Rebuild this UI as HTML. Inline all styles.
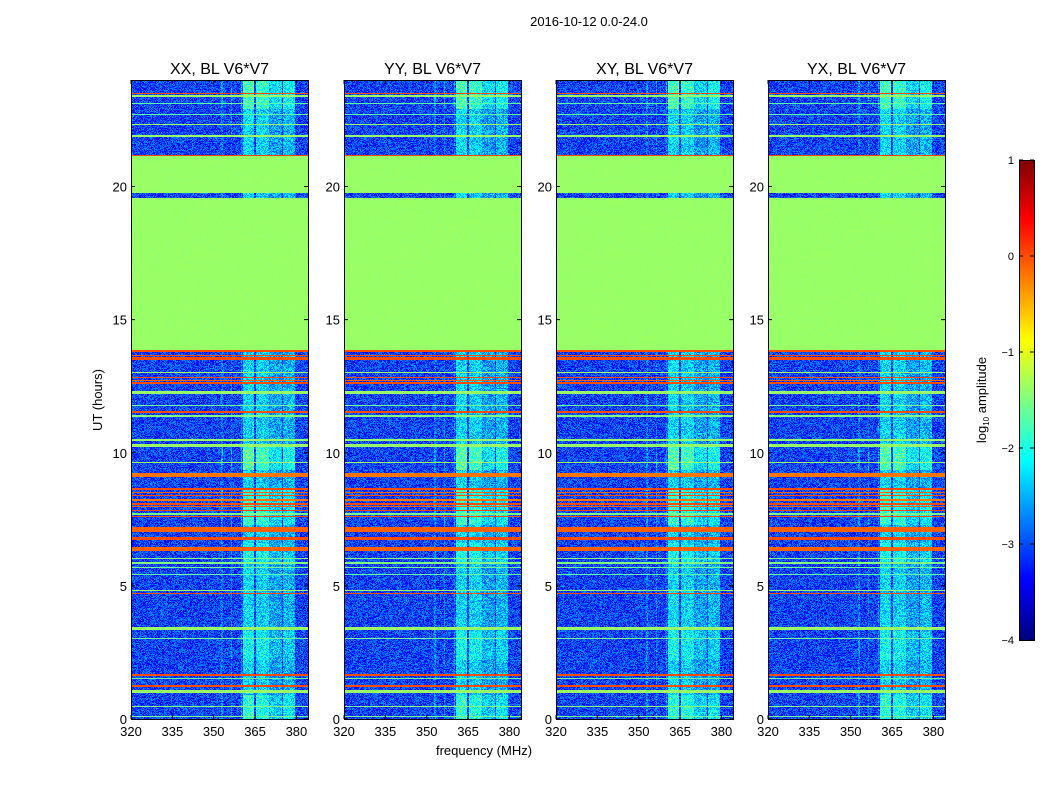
<!DOCTYPE html>
<html><head><meta charset="utf-8">
<style>
body{margin:0;background:#fff;width:1050px;height:800px;overflow:hidden;position:relative;font-family:"Liberation Sans",sans-serif}
canvas{position:absolute;image-rendering:pixelated}
svg{position:absolute;left:0;top:0}
</style></head>
<body>
<div id="root"></div>
<svg id="ov" width="1050" height="800"></svg>
<script>
// ---- data ----
const panelTitles = ["XX, BL V6*V7","YY, BL V6*V7","XY, BL V6*V7","YX, BL V6*V7"];
const xTicks = [320,335,350,365,380];
const yTicks = [0,5,10,15,20];
const cbTicks = [1,0,-1,-2,-3,-4];
// flagged / RFI time rows (UT hours) and their log10 amplitude
const rowStart = [23.46,23.36,23.10,22.69,22.30,21.86,21.73,21.13,19.76,13.86,13.78,13.65,13.57,13.50,13.01,12.82,12.71,12.60,12.20,11.74,11.51,11.36,10.46,10.22,9.63,9.09,8.60,8.48,8.36,8.20,8.05,7.95,7.80,7.68,7.58,7.02,6.72,6.31,6.00,5.84,5.66,5.40,4.82,4.71,3.35,3.01,1.63,1.50,1.21,0.98,0.45,0.08];
const rowEnd   = [23.53,23.43,23.14,22.73,22.36,21.92,21.76,21.20,21.13,19.57,13.85,13.69,13.61,13.54,13.05,12.86,12.75,12.64,12.32,11.78,11.56,11.40,10.50,10.33,9.67,9.24,8.68,8.54,8.42,8.26,8.11,8.00,7.86,7.74,7.63,7.21,6.84,6.46,6.04,5.88,5.70,5.44,4.86,4.75,3.45,3.05,1.69,1.54,1.27,1.09,0.49,0.12];
const rowValue = [0.0,-1.38,-1.7,-1.7,-1.4,-1.4,-1.7,0.05,-1.38,-1.38,0.0,0.0,0.0,0.0,-1.4,0.0,-0.1,0.0,-1.38,-1.6,0.0,-1.5,-1.4,-1.38,-1.4,-0.2,0.0,-0.1,0.0,-0.2,0.0,-0.1,0.05,-1.5,0.0,-0.1,0.0,-0.1,-1.5,-1.5,-1.6,-1.7,-1.4,0.0,-1.38,-1.6,0.0,-1.6,0.0,-1.38,-1.5,-1.6];
// RFI frequency channels (MHz) and amplitude boost
const chanLo    = [360.6,365.2,370.5,375.2,352.8,356.1,359.8,370.2];
const chanHi    = [364.6,370.0,374.6,379.6,353.2,356.5,360.2,370.5];
const chanBoost = [0.75,0.7,0.45,0.55,0.25,0.25,0.3,0.35];
// periods when the RFI channels are brighter
const actStart = [22.9,9.35,7.3,5.9,0.0,2.2];
const actEnd   = [24.0,10.3,8.6,6.6,0.9,3.3];
const actBoost = [0.7,0.8,0.6,0.35,0.5,0.3];
const bgLevel = -3.05;

const PX=[131,344,556,768], PW=177, PT=80, PB=719, PH=PB-PT;
const fmin=320, fmax=384.2, tmin=0, tmax=24;
const xs = (f,i)=>PX[i]+(f-fmin)/(fmax-fmin)*PW;
const ys = t=>PB-(t-tmin)/(tmax-tmin)*PH;
const CBT=160, CBB=640, CBX=1019, CBW=15;
const cby = v=>CBB-(v+4)/5*(CBB-CBT);

function jet(v){
  let t=Math.max(0,Math.min(1,(v+4)/5));
  const c=x=>Math.max(0,Math.min(1,1.5-Math.abs(x)));
  return [c(4*t-3)*255,c(4*t-2)*255,c(4*t-1)*255];
}
function hash(a,b){let h=(a*374761393+b*668265263)|0;h=(h^(h>>>13))*1274126177|0;return ((h^(h>>>16))>>>0)/4294967296;}

const root=document.getElementById('root');
for(let p=0;p<4;p++){
  const cv=document.createElement('canvas');
  
  
  cv.width=PW;cv.height=PH;cv.style.left=PX[p]+'px';cv.style.top=PT+'px';
  root.appendChild(cv);
  const ctx=cv.getContext('2d');const img=ctx.createImageData(PW,PH);
  for(let y=0;y<PH;y++){
    const t=tmax-(y+0.5)/PH*(tmax-tmin);
    let rv=null;
    for(let k=0;k<rowStart.length;k++) if(t>=rowStart[k]&&t<rowEnd[k]){rv=rowValue[k];}
    let act=0;
    for(let k=0;k<actStart.length;k++) if(t>=actStart[k]&&t<actEnd[k]) act=Math.max(act,actBoost[k]);
    for(let x=0;x<PW;x++){
      const f=fmin+(x+0.5)/PW*(fmax-fmin);
      let v;
      if(rv!==null){v=rv+(hash(x+p*7,y)-0.5)*0.08;}
      else{
        let b=0;
        for(let k=0;k<chanLo.length;k++) if(f>=chanLo[k]&&f<chanHi[k]) b=Math.max(b,chanBoost[k]);
        v=bgLevel+(hash(x+p*131,y*3+p)-0.5)*0.9+b*(1+act);
      }
      const c=jet(v);const i=(y*PW+x)*4;
      img.data[i]=c[0];img.data[i+1]=c[1];img.data[i+2]=c[2];img.data[i+3]=255;
    }
  }
  ctx.putImageData(img,0,0);
}
// colorbar
const cb=document.createElement('canvas');


cb.width=CBW;cb.height=CBB-CBT;cb.style.left=CBX+'px';cb.style.top=CBT+'px';
root.appendChild(cb);
{const c=cb.getContext('2d');for(let y=0;y<CBB-CBT;y++){const v=1-(y+0.5)/(CBB-CBT)*5;const k=jet(v);c.fillStyle=`rgb(${k[0]|0},${k[1]|0},${k[2]|0})`;c.fillRect(0,y,CBW,1);}}

const NS='http://www.w3.org/2000/svg';const ov=document.getElementById('ov');
function el(tag,attrs,txt){const e=document.createElementNS(NS,tag);for(const k in attrs)e.setAttribute(k,attrs[k]);if(txt!==undefined)e.textContent=txt;ov.appendChild(e);return e;}
let e;
e=el('text',{x:589,y:26,'font-size':13,'text-anchor':'middle'},'2016-10-12 0.0-24.0');


for(let p=0;p<4;p++){
  e=el('rect',{x:PX[p]+0.5,y:PT+0.5,width:PW,height:PH,fill:'none',stroke:'#000','stroke-width':1});
  
  
  e=el('text',{x:PX[p]+PW/2,y:74,'font-size':16,'text-anchor':'middle'},panelTitles[p]);
  
  
  xTicks.forEach(f=>{const x=xs(f,p);
    el('line',{x1:x,x2:x,y1:PB,y2:PB-4,stroke:'#000'});el('line',{x1:x,x2:x,y1:PT,y2:PT+4,stroke:'#000'});
    e=el('text',{x:x,y:PB+17,'font-size':13,'text-anchor':'middle'},String(f));
    
    
  });
  yTicks.forEach(t=>{const y=ys(t);
    el('line',{x1:PX[p],x2:PX[p]+4,y1:y,y2:y,stroke:'#000'});el('line',{x1:PX[p]+PW,x2:PX[p]+PW-4,y1:y,y2:y,stroke:'#000'});
    e=el('text',{x:PX[p]-4,y:y+5,'font-size':13,'text-anchor':'end'},String(t));
    
    
  });
}
e=el('text',{x:484,y:755,'font-size':13,'text-anchor':'middle'},'frequency (MHz)');


e=el('text',{x:0,y:0,'font-size':13,'text-anchor':'middle',transform:'translate(102,400) rotate(-90)'},'UT (hours)');


e=el('rect',{x:CBX+0.5,y:CBT+0.5,width:CBW,height:CBB-CBT,fill:'none',stroke:'#000'});


cbTicks.forEach(v=>{const y=cby(v);
  el('line',{x1:CBX,x2:CBX+4,y1:y,y2:y,stroke:'#000'});el('line',{x1:CBX+CBW,x2:CBX+CBW-4,y1:y,y2:y,stroke:'#000'});
  e=el('text',{x:CBX-5,y:y+4,'font-size':11,'text-anchor':'end'},v<0?'\u2212'+(-v):String(v));
  
  
});
e=el('text',{x:0,y:0,'font-size':13,'text-anchor':'middle',transform:'translate(986,400) rotate(-90)'});


e.appendChild(document.createTextNode('log'));
const sub=document.createElementNS(NS,'tspan');sub.setAttribute('font-size',8);sub.setAttribute('dy',3);sub.textContent='10';e.appendChild(sub);
const rest=document.createElementNS(NS,'tspan');rest.setAttribute('dy',-3);rest.textContent=' amplitude';e.appendChild(rest);
</script>
</body></html>
